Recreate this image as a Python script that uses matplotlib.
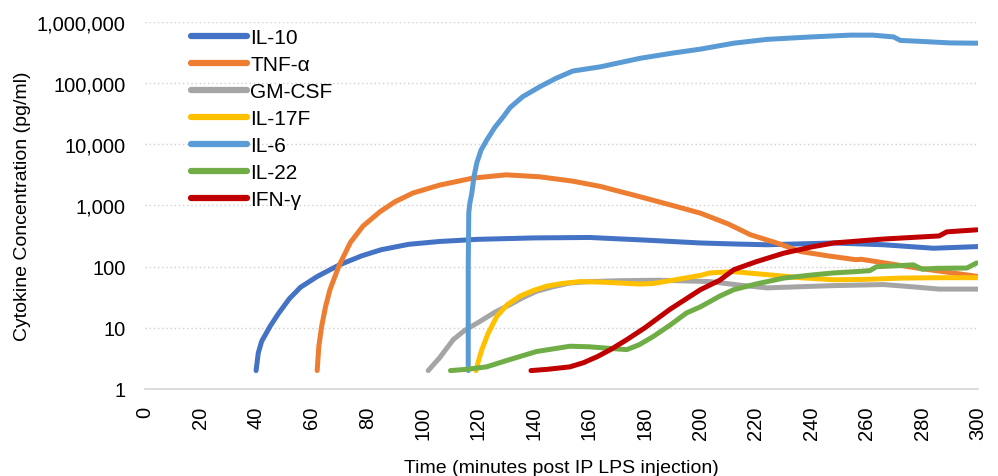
import matplotlib
matplotlib.use("Agg")
import matplotlib.pyplot as plt
from matplotlib.ticker import FuncFormatter, FixedLocator

# minutes post injection / concentration in pg/ml
il10_t = [40, 40.8, 42, 45, 48, 52, 56, 62, 70, 78, 85, 95, 106, 120, 140, 160, 180, 200, 212, 224, 248, 266, 284, 300]
il10_c = [2, 3.9, 6, 10.5, 17, 30, 46, 69, 107, 150, 189, 232, 258, 280, 295, 300, 272, 244, 235, 228, 244, 228, 200, 213]

tnf_t = [62, 62.6, 63.6, 65, 66.6, 70, 74, 78.5, 84.6, 90, 96.5, 106, 118, 130, 142, 154, 164, 178, 190, 200, 210, 218, 228, 236, 246, 256, 258, 268, 278, 290, 300]
tnf_c = [2, 5, 10.5, 22, 42, 107, 250, 460, 790, 1150, 1600, 2150, 2800, 3170, 2950, 2500, 2050, 1400, 1000, 750, 500, 333, 240, 177, 150, 130, 132, 112, 95, 80, 69]

gmcsf_t = [102, 106, 111, 115, 120.6, 126, 131.5, 136, 141, 147, 153, 160, 171, 185, 203.5, 214, 224, 236, 248, 266, 276, 286, 300]
gmcsf_c = [2, 3.2, 6.4, 9, 12.7, 18, 24, 31, 39.5, 47, 54, 57, 59, 60, 57, 50, 45, 47, 49, 51, 47, 43, 43]

il17f_t = [119.2, 120, 121.3, 123.5, 126.7, 130.5, 135.1, 140, 144.7, 150, 156.7, 164, 171, 178, 183, 190, 200, 203.5, 211.8, 224, 236, 248, 260, 272, 286, 300]
il17f_c = [2, 2.8, 4.4, 8, 15.4, 24, 33, 41, 48, 53, 57, 56, 54, 52, 53, 60, 72, 79, 83, 74, 66, 61, 62, 65, 66, 66]

il6_t = [116.4, 116.4, 116.6, 117, 117.7, 118.5, 119.5, 121, 123.1, 126, 129.1, 131.5, 136, 142.3, 148, 154.1, 164, 178.3, 190, 200, 212, 224, 240, 254, 262, 269.6, 272, 280, 290, 300]
il6_c = [2, 100, 760, 1100, 1600, 3000, 5000, 8000, 11800, 19000, 28500, 40000, 60000, 88000, 120000, 158000, 185000, 255000, 310000, 360000, 450000, 520000, 570000, 610000, 610000, 570000, 500000, 480000, 455000, 450000]

il22_t = [110, 116, 123, 130, 141, 153, 160, 165, 173.5, 178, 183, 189, 195, 200, 207, 212, 220, 230, 240, 248, 256, 261, 263.5, 270, 276.7, 279.8, 285, 296, 299.5]
il22_c = [2, 2.1, 2.3, 2.9, 4.1, 5, 4.9, 4.7, 4.4, 5.3, 7.2, 11, 17.5, 22, 33, 42, 52, 65, 73, 79, 83, 86, 100, 103, 107, 91, 94, 95, 115]

ifng_t = [139, 145, 153, 158, 163, 168, 173.5, 180, 189, 200, 207, 212, 220, 230, 240, 248, 258, 266, 276, 286, 288.7, 294, 299.5]
ifng_c = [2, 2.1, 2.3, 2.7, 3.4, 4.5, 6.4, 10, 20, 42, 60, 89, 120, 166, 210, 244, 265, 283, 300, 318, 370, 385, 400]

names = ["IL-10", "TNF-α", "GM-CSF", "IL-17F", "IL-6", "IL-22", "IFN-γ"]
colors = ["#4472C4", "#ED7D31", "#A5A5A5", "#FFC000", "#5B9BD5", "#70AD47", "#C00000"]
series = [(il10_t, il10_c), (tnf_t, tnf_c), (gmcsf_t, gmcsf_c), (il17f_t, il17f_c),
          (il6_t, il6_c), (il22_t, il22_c), (ifng_t, ifng_c)]

x_ticks = list(range(0, 301, 20))
y_ticks = [1, 10, 100, 1000, 10000, 100000, 1000000]

plt.rcParams['font.family'] = ['Liberation Sans', 'DejaVu Sans']

fig = plt.figure(figsize=(9.98, 4.77), dpi=100)
ax = fig.add_axes([0.1453, 0.1824, 0.8347, 0.7694])

for (t, c), name, col in zip(series, names, colors):
    ax.plot(t, c, color=col, lw=3.6, label=name, solid_capstyle='round', solid_joinstyle='round')

ax.set_yscale('log')
ax.set_ylim(1, 1000000)
ax.set_xlim(0, 300)
ax.yaxis.set_major_locator(FixedLocator(y_ticks))
ax.yaxis.set_minor_locator(FixedLocator([]))
ax.yaxis.set_major_formatter(FuncFormatter(lambda v, p: f"{int(round(v)):,}"))
ax.set_xticks(x_ticks)
ax.set_xticklabels([str(v) for v in x_ticks], rotation=90)

for v in y_ticks[1:]:
    ax.axhline(v, color='#D0D0D0', lw=1, ls=(0, (1, 2)), zorder=0)
for s in ['top', 'right', 'left']:
    ax.spines[s].set_visible(False)
ax.spines['bottom'].set_color('#D9D9D9')
ax.spines['bottom'].set_linewidth(1.3)

ax.tick_params(axis='both', length=0, labelsize=14.5, colors='#000000')
ax.tick_params(axis='y', pad=14)
ax.tick_params(axis='x', pad=12)

ax.set_xlabel("Time (minutes post IP LPS injection)", fontsize=14, labelpad=14)
ax.set_ylabel("Cytokine Concentration (pg/ml)", fontsize=14, labelpad=4)

leg = ax.legend(loc='upper left', bbox_to_anchor=(0.045, 1.005), frameon=False, fontsize=15,
                handlelength=2.7, handletextpad=0.15, labelspacing=0.38, borderaxespad=0)
for line in leg.get_lines():
    line.set_linewidth(4.5)

fig.savefig("out.png", dpi=100)
